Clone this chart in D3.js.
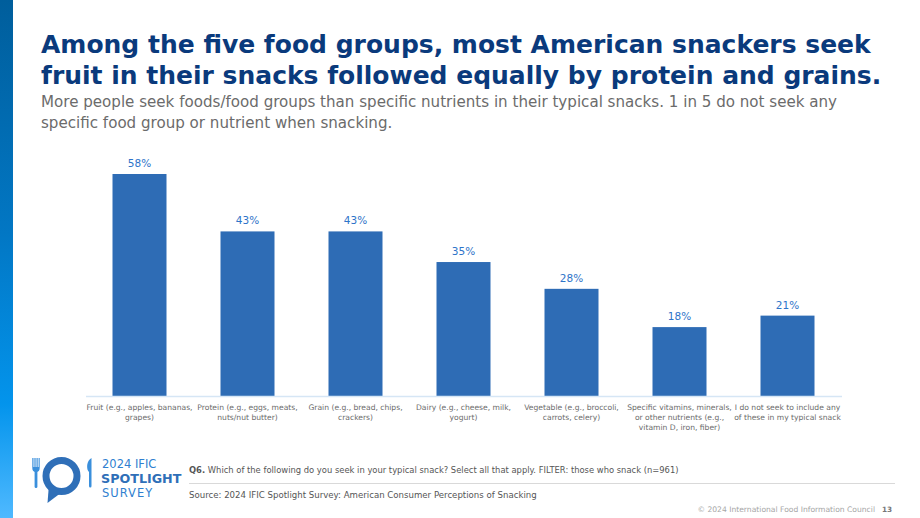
<!DOCTYPE html>
<html>
<head>
<meta charset="utf-8">
<script src="https://cdn.jsdelivr.net/npm/d3@7"></script>
<style>
  body { margin: 0; background: #fff; }
  svg { display: block; font-family: "DejaVu Sans", sans-serif; }
</style>
</head>
<body>
<div id="chart"></div>
<script>
// data
const categories = [
  ["Fruit (e.g., apples, bananas,", "grapes)"],
  ["Protein (e.g., eggs, meats,", "nuts/nut butter)"],
  ["Grain (e.g., bread, chips,", "crackers)"],
  ["Dairy (e.g., cheese, milk,", "yogurt)"],
  ["Vegetable (e.g., broccoli,", "carrots, celery)"],
  ["Specific vitamins, minerals,", "or other nutrients (e.g.,", "vitamin D, iron, fiber)"],
  ["I do not seek to include any", "of these in my typical snack"]
];
const values = [58, 43, 43, 35, 28, 18, 21];
const valueLabels = ["58%", "43%", "43%", "35%", "28%", "18%", "21%"];

const W = 920, H = 518;
const svg = d3.select("#chart").append("svg")
    .attr("width", W)
    .attr("height", H);

// left gradient stripe
const defs = svg.append("defs");
const grad = defs.append("linearGradient")
    .attr("id", "stripe")
    .attr("x1", 0).attr("y1", 0).attr("x2", 0).attr("y2", 1);
grad.append("stop").attr("offset", "0%").attr("stop-color", "#005e9c");
grad.append("stop").attr("offset", "45%").attr("stop-color", "#0277c4");
grad.append("stop").attr("offset", "78%").attr("stop-color", "#0394ec");
grad.append("stop").attr("offset", "100%").attr("stop-color", "#4fb9ff");
svg.append("rect")
    .attr("x", 0).attr("y", 0)
    .attr("width", 13).attr("height", H)
    .attr("fill", "url(#stripe)");

// title + subtitle
const title = svg.append("text")
    .attr("fill", "#0a3a7c")
    .attr("font-size", 25)
    .attr("font-weight", "bold");
title.append("tspan").attr("x", 41).attr("y", 53)
    .text("Among the five food groups, most American snackers seek");
title.append("tspan").attr("x", 41).attr("y", 84)
    .text("fruit in their snacks followed equally by protein and grains.");

const sub = svg.append("text")
    .attr("fill", "#6b6b6b")
    .attr("font-size", 15.1);
sub.append("tspan").attr("x", 41).attr("y", 107)
    .text("More people seek foods/food groups than specific nutrients in their typical snacks. 1 in 5 do not seek any");
sub.append("tspan").attr("x", 41).attr("y", 128)
    .text("specific food group or nutrient when snacking.");

// chart
const baseY = 396;
const x = d3.scaleBand()
    .domain(d3.range(values.length))
    .range([85.5, 841.5])
    .paddingInner(0.5)
    .paddingOuter(0.25);

const y = d3.scaleLinear()
    .domain([0, 58])
    .range([baseY, 174]);

const g = svg.append("g");

g.selectAll(".bar")
    .data(values)
  .join("rect")
    .attr("class", "bar")
    .attr("x", (d, i) => x(i))
    .attr("y", d => y(d))
    .attr("width", x.bandwidth())
    .attr("height", d => y(0) - y(d))
    .attr("fill", "#2e6cb5");

g.selectAll(".val")
    .data(values)
  .join("text")
    .attr("class", "val")
    .attr("x", (d, i) => x(i) + x.bandwidth() / 2)
    .attr("y", d => y(d) - 7)
    .attr("text-anchor", "middle")
    .attr("font-size", 10.5)
    .attr("fill", "#2e74c9")
    .text((d, i) => valueLabels[i]);

// baseline
const xAxis = d3.axisBottom(x).tickSize(0).tickFormat("");
const axisG = svg.append("g")
    .attr("transform", `translate(0,${baseY})`)
    .call(xAxis);
axisG.select(".domain").attr("stroke", "#d6e6f5").attr("stroke-width", 1.5);

const labels = svg.append("g").selectAll("text")
    .data(categories)
  .join("text")
    .attr("text-anchor", "middle")
    .attr("font-size", 7.6)
    .attr("fill", "#6b6b6b");
labels.each(function(lines, i) {
  const t = d3.select(this);
  lines.forEach((ln, j) => {
    t.append("tspan")
      .attr("x", x(i) + x.bandwidth() / 2)
      .attr("y", 410 + j * 10)
      .text(ln);
  });
});

// logo
const logo = svg.append("g");
// fork
logo.append("rect").attr("x", 34.6).attr("y", 470).attr("width", 2.8).attr("height", 18).attr("rx", 1.3).attr("fill", "#3a8fdc");
logo.append("path")
    .attr("d", "M32.3,458 v10 q0,4 3.7,4 q3.7,0 3.7,-4 v-10 h-1.1 v9 h-0.9 v-9 h-1.2 v9 h-0.9 v-9 h-1.2 v9 h-0.9 v-9 z")
    .attr("fill", "#3a8fdc");
// plate / speech bubble
logo.append("circle").attr("cx", 61.5).attr("cy", 476).attr("r", 15.5)
    .attr("fill", "none").attr("stroke", "#2f6fb8").attr("stroke-width", 7);
logo.append("path").attr("d", "M49,484 L47.5,503 L62,492 Z").attr("fill", "#2f6fb8");
// knife
logo.append("path")
    .attr("d", "M89,486 v-14 q-2.3,-2 -1.8,-7 q0.7,-5 4.3,-7 v28 q0,1.5 -1.25,1.5 q-1.25,0 -1.25,-1.5 z")
    .attr("fill", "#3a8fdc");

svg.append("text").attr("x", 102).attr("y", 468)
    .attr("font-size", 11.5).attr("fill", "#2f7fd0").text("2024 IFIC");
svg.append("text").attr("x", 101).attr("y", 483)
    .attr("font-size", 12.7).attr("font-weight", "bold").attr("fill", "#2f6fb8").text("SPOTLIGHT");
svg.append("text").attr("x", 102).attr("y", 497)
    .attr("font-size", 11.5).attr("letter-spacing", 1).attr("fill", "#2f7fd0").text("SURVEY");

// footnotes
const q = svg.append("text").attr("x", 189).attr("y", 473)
    .attr("font-size", 8.4).attr("fill", "#555");
q.append("tspan").attr("font-weight", "bold").text("Q6.");
q.append("tspan").text(" Which of the following do you seek in your typical snack? Select all that apply. FILTER: those who snack (n=961)");

svg.append("line")
    .attr("x1", 189).attr("x2", 895)
    .attr("y1", 483.5).attr("y2", 483.5)
    .attr("stroke", "#d9d9d9");

svg.append("text").attr("x", 189).attr("y", 498)
    .attr("font-size", 8.6).attr("fill", "#555")
    .text("Source: 2024 IFIC Spotlight Survey: American Consumer Perceptions of Snacking");

svg.append("text").attr("x", 875).attr("y", 512)
    .attr("text-anchor", "end")
    .attr("font-size", 7.6).attr("fill", "#a6a6a6")
    .text("© 2024 International Food Information Council");
svg.append("text").attr("x", 882).attr("y", 512)
    .attr("font-size", 7.3).attr("font-weight", "bold").attr("fill", "#777")
    .text("13");
</script>
</body>
</html>
